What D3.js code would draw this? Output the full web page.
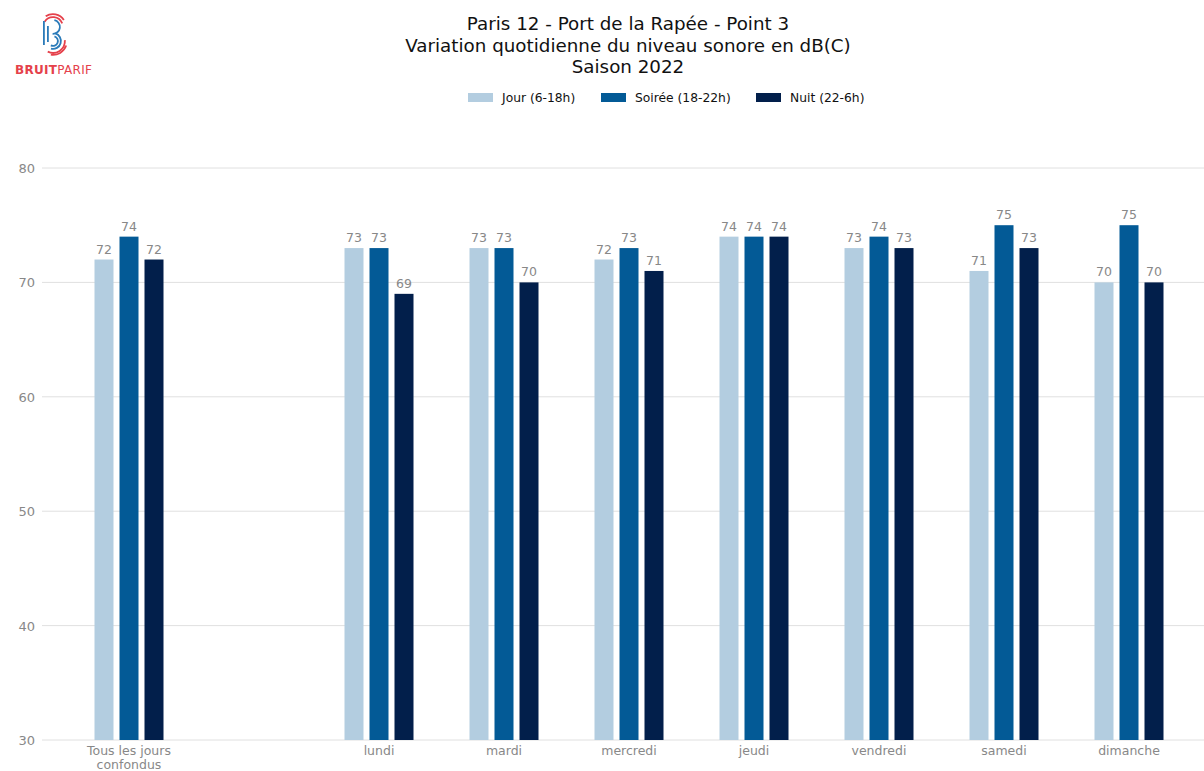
<!DOCTYPE html>
<html><head><meta charset="utf-8">
<script src="https://cdn.jsdelivr.net/npm/d3@7"></script>
<style>
body{margin:0;background:#fff;}
svg{display:block;font-family:"DejaVu Sans",sans-serif;}
</style></head>
<body><svg id="chart" width="1204" height="771"></svg>
<script>
const categories = ["Tous les jours\nconfondus", "", "lundi", "mardi", "mercredi", "jeudi", "vendredi", "samedi", "dimanche"];
const seriesNames = ["Jour (6-18h)", "Soirée (18-22h)", "Nuit (22-6h)"];
const jour   = [72, null, 73, 73, 72, 74, 73, 71, 70];
const soiree = [74, null, 73, 73, 73, 74, 74, 75, 75];
const nuit   = [72, null, 69, 70, 71, 74, 73, 73, 70];
const yTicks = [30, 40, 50, 60, 70, 80];
const titleLines = ["Paris 12 - Port de la Rapée - Point 3", "Variation quotidienne du niveau sonore en dB(C)", "Saison 2022"];
const colors = ["#b3cde0", "#035a96", "#021f4b"];

const svg = d3.select("#chart");
const W = 1204;

const x = d3.scaleBand().domain(d3.range(categories.length)).range([66.5, 1191.5]);
const y = d3.scaleLinear().domain([30, 80]).range([740, 168]);
const xs = d3.scaleBand().domain([0,1,2]).range([-34.5, 34.5]).paddingInner(0.24);

// grid
svg.append("g").selectAll("line").data(yTicks).join("line")
  .attr("x1", 42).attr("x2", W).attr("y1", d => y(d)).attr("y2", d => y(d))
  .attr("stroke", "#e0e0e0").attr("stroke-width", 1);

// y tick labels
svg.append("g").selectAll("text").data(yTicks).join("text")
  .attr("x", 35).attr("y", d => y(d) + 5).attr("text-anchor", "end")
  .attr("font-size", 13).attr("fill", "#888").text(d => d);

// bars
const series = [jour, soiree, nuit];
series.forEach((vals, s) => {
  const g = svg.append("g");
  const data = vals.map((v, i) => ({v, i})).filter(d => d.v != null);
  g.selectAll("rect").data(data).join("rect")
    .attr("x", d => x(d.i) + x.bandwidth()/2 + xs(s))
    .attr("width", xs.bandwidth())
    .attr("y", d => y(d.v))
    .attr("height", d => y(30) - y(d.v))
    .attr("fill", colors[s]);
  g.selectAll("text").data(data).join("text")
    .attr("x", d => x(d.i) + x.bandwidth()/2 + xs(s) + xs.bandwidth()/2)
    .attr("y", d => y(d.v) - 6)
    .attr("text-anchor", "middle").attr("font-size", 12.5).attr("fill", "#888")
    .text(d => d.v);
});

// x labels
const xl = svg.append("g");
categories.forEach((c, i) => {
  const lines = c.split("\n");
  lines.forEach((l, k) => {
    xl.append("text").attr("x", x(i) + x.bandwidth()/2).attr("y", 755 + k*14)
      .attr("text-anchor", "middle").attr("font-size", 12.5).attr("fill", "#888").text(l);
  });
});

// title
titleLines.forEach((t, k) => {
  svg.append("text").attr("x", 628).attr("y", 30 + k*21.5).attr("text-anchor", "middle")
    .attr("font-size", 18.3).attr("fill", "#111").text(t);
});

// legend
const legX = [468, 601, 756];
seriesNames.forEach((n, i) => {
  svg.append("rect").attr("x", legX[i]).attr("y", 93).attr("width", 25).attr("height", 9).attr("fill", colors[i]);
  svg.append("text").attr("x", legX[i] + 34).attr("y", 102).attr("font-size", 12.3).attr("fill", "#111").text(n);
});

// logo
const logo = svg.append("g").attr("transform", "translate(52,36)");
const arc = (r, a0, a1) => d3.arc()({innerRadius: r, outerRadius: r + 1.8, startAngle: a0, endAngle: a1});
logo.append("path").attr("d", arc(9, -1.0, 1.2)).attr("fill", "#e5414b").attr("transform", "translate(1,-9)");
logo.append("path").attr("d", arc(12, -0.6, 1.0)).attr("fill", "#e5414b").attr("transform", "translate(1,-9)");
logo.append("path").attr("d", arc(6, 0.2, 3.2)).attr("fill", "#2b7bb9").attr("transform", "translate(1,-9)");
logo.append("path").attr("d", arc(7, 0.3, 3.4)).attr("fill", "#2b7bb9").attr("transform", "translate(1,5)");
logo.append("path").attr("d", arc(4, 0.3, 3.6)).attr("fill", "#2b7bb9").attr("transform", "translate(1,5)");
logo.append("path").attr("d", arc(11, 1.5, 3.6)).attr("fill", "#e5414b").attr("transform", "translate(1,5)");
logo.append("path").attr("d", arc(13, 1.9, 3.3)).attr("fill", "#e5414b").attr("transform", "translate(1,5)");
logo.append("rect").attr("x", -9).attr("y", -15).attr("width", 1.8).attr("height", 24).attr("fill", "#2b7bb9");
logo.append("rect").attr("x", -5).attr("y", -10).attr("width", 1.8).attr("height", 16).attr("fill", "#2b7bb9");
const lt = svg.append("text").attr("x", 15).attr("y", 74).attr("font-size", 12).attr("fill", "#e5414b").attr("letter-spacing", 0.3);
lt.append("tspan").attr("font-weight", "bold").text("BRUIT");
lt.append("tspan").text("PARIF");
</script></body></html>
